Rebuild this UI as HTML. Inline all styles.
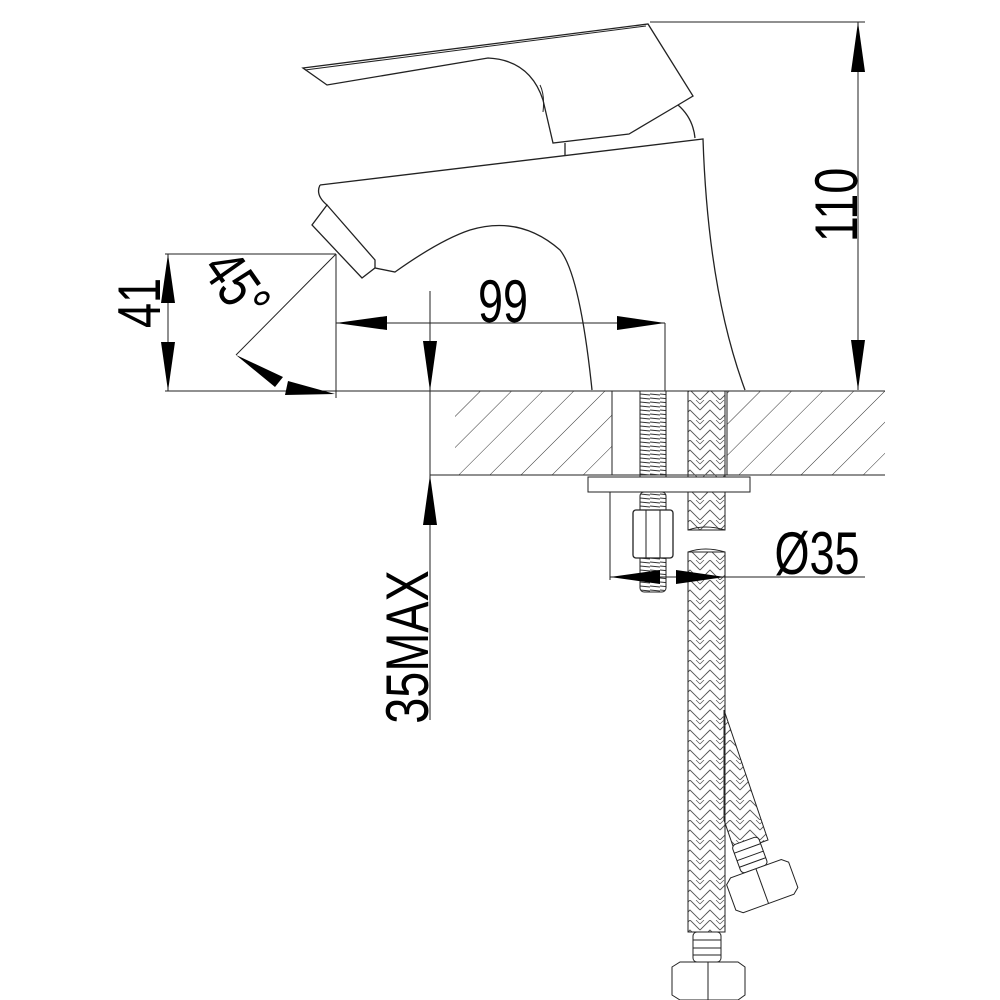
<!DOCTYPE html>
<html><head><meta charset="utf-8"><style>
html,body{margin:0;padding:0;background:#fff}
svg{display:block}
text{font-family:"Liberation Sans",sans-serif;fill:#000}
</style></head><body>
<svg width="1000" height="1000" viewBox="0 0 1000 1000" xmlns="http://www.w3.org/2000/svg">
<defs>
<pattern id="hatch" width="22" height="22" patternUnits="userSpaceOnUse" patternTransform="rotate(45)">
<line x1="0" y1="0" x2="0" y2="22" stroke="#333" stroke-width="1"/>
</pattern>
<pattern id="braid" width="20" height="20" patternUnits="userSpaceOnUse">
<path d="M0 10 L10 0 L20 10 M0 20 L10 10 L20 20" stroke="#555" stroke-width="0.9" fill="none"/>
<path d="M0 4 L4 0 M16 0 L20 4 M6 14 L10 10" stroke="#555" stroke-width="0.7" fill="none"/>
</pattern>
<pattern id="thread" width="10" height="4" patternUnits="userSpaceOnUse">
<line x1="0" y1="2" x2="10" y2="3" stroke="#333" stroke-width="1"/>
</pattern>
</defs>
<g fill="none" stroke="#222" stroke-width="1.3">
<path d="M303 68 L648 24 L693 96 L678 105 L629 134 L553 143 L543 100 Q530 60 488 58 L327 85 Z" fill="#fff"/>
<path d="M305 70 L646 26 M540 85 Q545 95 543 112" stroke-width="1"/>
<path d="M678 105 Q693 118 695 138"/>
<line x1="565" y1="143" x2="565" y2="155"/>
<path d="M320 185 L703 139 Q708 290 745 390"/>
<path d="M320 185 Q315 195 327 205 L312 225 L362 278 L375 268 L395 272 Q440 240 470 230 Q520 215 560 250 Q580 275 592 390"/>
<path d="M327 205 L375 260 L375 268"/>
<rect x="455" y="391" width="157" height="84" fill="url(#hatch)" stroke="none"/>
<rect x="727" y="391" width="158" height="84" fill="url(#hatch)" stroke="none"/>
<line x1="335" y1="391" x2="885" y2="391" stroke-width="1"/>
<line x1="430" y1="475" x2="885" y2="475" stroke-width="1"/>
<line x1="612" y1="391" x2="612" y2="475" stroke-width="1"/>
<line x1="727" y1="391" x2="727" y2="475" stroke-width="1"/>
<rect x="588" y="477" width="162" height="15" stroke-width="1"/>
<line x1="610" y1="492" x2="610" y2="580" stroke-width="1"/>
<rect x="640" y="391" width="26" height="86" fill="url(#thread)" stroke-width="1"/>
<rect x="640" y="492" width="26" height="100" rx="4" fill="url(#thread)" stroke-width="1"/>
<rect x="633" y="510" width="40" height="48" rx="3" fill="#fff"/>
<line x1="646" y1="510" x2="646" y2="558" stroke-width="1"/>
<line x1="660" y1="510" x2="660" y2="558" stroke-width="1"/>
<rect x="688" y="391" width="37" height="86" fill="url(#braid)" stroke-width="1"/>
<rect x="688" y="492" width="37" height="38" fill="url(#braid)" stroke-width="1"/>
<path d="M724 710 L768 840 L735 852 L724 820 Z" fill="url(#braid)" stroke-width="1"/>
<rect x="688" y="552" width="37" height="380" fill="url(#braid)" stroke-width="1"/>
<path d="M688 530 Q705 524 725 530 M688 552 Q705 546 725 552" stroke-width="1"/>
<g stroke-width="1">
<rect x="693" y="932" width="28" height="30" rx="4" fill="#fff"/>
<line x1="693" y1="940" x2="721" y2="940"/><line x1="693" y1="948" x2="721" y2="948"/><line x1="693" y1="955" x2="721" y2="955"/>
<path d="M672 967 L680 962 L738 962 L745 967 L745 995 L738 1000 L680 1000 L672 995 Z" fill="#fff"/>
<line x1="708" y1="962" x2="708" y2="1000"/>
<g transform="rotate(-20 760 880)">
<rect x="745" y="838" width="28" height="30" rx="4" fill="#fff"/>
<line x1="745" y1="846" x2="773" y2="846"/><line x1="745" y1="854" x2="773" y2="854"/><line x1="745" y1="861" x2="773" y2="861"/>
<path d="M727 873 L733 868 L787 868 L793 873 L793 900 L787 905 L733 905 L727 900 Z" fill="#fff"/>
<line x1="760" y1="868" x2="760" y2="905"/>
</g>
</g>
</g>
<g stroke="#222" stroke-width="1" fill="none">
<line x1="165" y1="254" x2="336" y2="254"/>
<line x1="165" y1="391" x2="335" y2="391"/>
<line x1="168" y1="254" x2="168" y2="391"/>
<line x1="336" y1="254" x2="336" y2="398"/>
<line x1="336" y1="254" x2="236" y2="355"/>
<line x1="336" y1="323" x2="665" y2="323"/>
<line x1="665" y1="323" x2="665" y2="391"/>
<line x1="430" y1="291" x2="430" y2="720"/>
<line x1="650" y1="22" x2="865" y2="22"/>
<line x1="858" y1="22" x2="858" y2="390"/>
<line x1="610" y1="577" x2="865" y2="577"/>
</g>
<g fill="#000">
<polygon points="168,254 161,303 175,303"/>
<polygon points="168,391 161,342 175,342"/>
<polygon points="336,323 387,316 387,330"/>
<polygon points="665,323 617,316 617,330"/>
<polygon points="430,391 423,341 437,341"/>
<polygon points="430,475 423,525 437,525"/>
<polygon points="858,22 851,72 865,72"/>
<polygon points="858,390 851,340 865,340"/>
<polygon points="236,355 283,377 275,387"/>
<polygon points="335,394 288,381 285,395"/>
<polygon points="610,577 660,570 660,584"/>
<polygon points="725,577 676,570 676,584"/>
</g>
<g font-size="60">
<text transform="translate(503,322) scale(0.75,1)" text-anchor="middle">99</text>
<text transform="translate(160,303) rotate(-90) scale(0.75,1)" text-anchor="middle">41</text>
<text transform="translate(857,205) rotate(-90) scale(0.78,1)" text-anchor="middle">110</text>
<text transform="translate(428,647) rotate(-90) scale(0.78,1)" text-anchor="middle">35MAX</text>
<text transform="translate(817,574) scale(0.75,1)" text-anchor="middle">Ø35</text>
<text transform="translate(220,297) rotate(55) scale(0.75,1)" text-anchor="middle">45°</text>
</g>
</svg>
</body></html>
